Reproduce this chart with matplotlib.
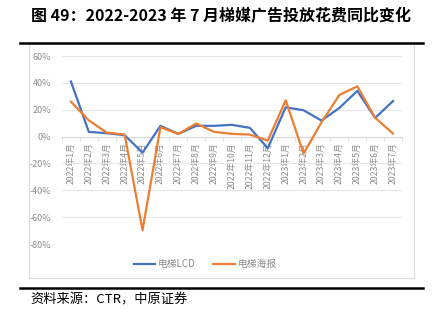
import numpy as np
import matplotlib.pyplot as plt
from matplotlib.patches import Rectangle
from matplotlib.lines import Line2D

plt.rcParams['font.family'] = ['Noto Sans CJK SC', 'DejaVu Sans']

months = ['2022年1月', '2022年2月', '2022年3月', '2022年4月', '2022年5月', '2022年6月',
          '2022年7月', '2022年8月', '2022年9月', '2022年10月', '2022年11月', '2022年12月',
          '2023年1月', '2023年2月', '2023年3月', '2023年4月', '2023年5月', '2023年6月',
          '2023年7月']
lcd = [41, 3.5, 2.5, 1, -12, 8, 2, 8, 8, 8.7, 6.5, -8.7,
       21.8, 19.6, 11.9, 21.3, 34, 13.9, 26.5]
poster = [26, 12, 3, 1.5, -69.7, 7, 2, 9.7, 3.5, 2, 1.5, -3,
          27, -12.6, 10.6, 31, 37.4, 14, 2.2]
yticks = [60, 40, 20, 0, -20, -40, -60, -80]

W, H = 435, 326
fig = plt.figure(figsize=(W / 100, H / 100), dpi=100)

def fx(px):
    return px / W

def fy(py):
    return 1 - py / H

# title, rules and source line
fig.text(fx(31), fy(16), '图 49：2022-2023 年 7 月梯媒广告投放花费同比变化',
         fontsize=11.5, fontweight='bold', va='center', ha='left')
fig.add_artist(Line2D([fx(20), fx(423)], [fy(43), fy(43)], color='black', lw=1.8))
fig.add_artist(Line2D([fx(20), fx(423)], [fy(288), fy(288)], color='black', lw=1.8))
fig.text(fx(30), fy(300), '资料来源：CTR，中原证券', fontsize=9.5, va='center', ha='left')

# chart frame
fig.add_artist(Rectangle((fx(29), fy(278)), fx(414) - fx(29), fy(43) - fy(278),
                         transform=fig.transFigure, fill=False, edgecolor='#d9d9d9', lw=0.8))

ax = fig.add_axes([fx(62), fy(244), fx(402) - fx(62), fy(56) - fy(244)])
x = np.arange(len(months))
ax.plot(x, lcd, color='#4472C4', lw=1.6, label='电梯LCD', zorder=3)
ax.plot(x, poster, color='#ED7D31', lw=1.6, label='电梯海报', zorder=3)

ax.set_xlim(-0.5, len(months) - 0.5)
ax.set_ylim(-80, 60)
ax.set_yticks(yticks)
ax.set_yticklabels([f'{v}%' for v in yticks], color='#8c8c8c', fontsize=6.5)
ax.yaxis.grid(True, color='#e6e6e6', lw=0.8)
ax.set_axisbelow(True)
for s in ['left', 'right', 'top']:
    ax.spines[s].set_visible(False)
ax.spines['bottom'].set_position(('data', 0))
ax.spines['bottom'].set_color('#d9d9d9')
ax.tick_params(axis='y', length=0, pad=8)

ax.set_xticks(x)
ax.set_xticklabels(months, rotation=90, fontsize=6.3, color='#8c8c8c', va='top')
ax.set_xticks(np.arange(len(months) + 1) - 0.5, minor=True)
ax.tick_params(axis='x', which='major', length=0, pad=4)
ax.tick_params(axis='x', which='minor', length=3, color='#d9d9d9')

ax.legend(loc='center', bbox_to_anchor=(fx(205), fy(264)), bbox_transform=fig.transFigure,
          ncol=2, frameon=False, fontsize=7, labelcolor='#8c8c8c',
          handlelength=2.2, columnspacing=1.8, handletextpad=0.3)

fig.savefig('out.png', dpi=100)
